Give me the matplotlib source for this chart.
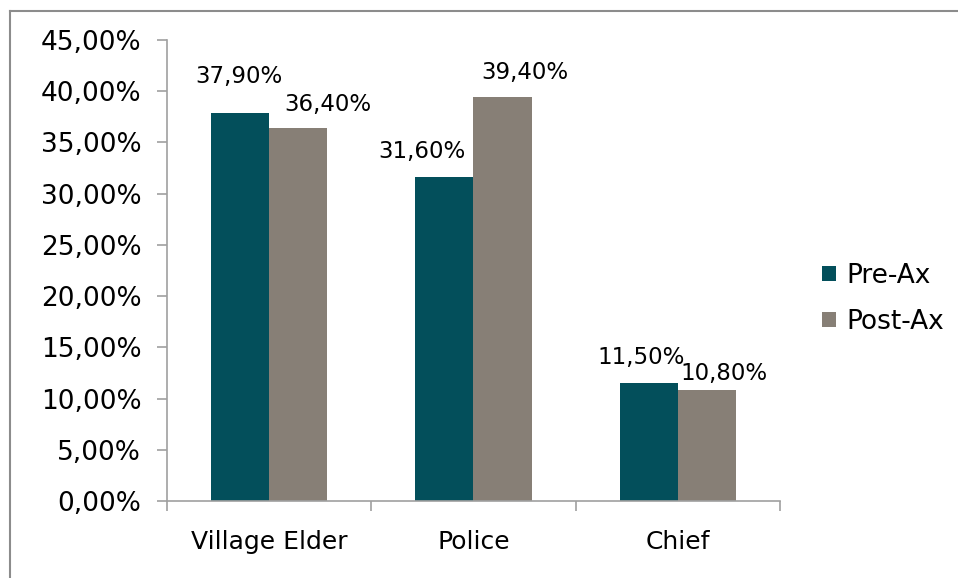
import matplotlib
matplotlib.use("Agg")
import matplotlib.pyplot as plt
import numpy as np
from matplotlib.lines import Line2D

categories = ["Village Elder", "Police", "Chief"]
pre_ax = [37.9, 31.6, 11.5]
post_ax = [36.4, 39.4, 10.8]
series_names = ["Pre-Ax", "Post-Ax"]
yticks = [0, 5, 10, 15, 20, 25, 30, 35, 40, 45]

colors = ["#034F5B", "#877F76"]
plt.rcParams['font.family'] = ['DejaVu Sans']

fig = plt.figure(figsize=(9.58, 5.78), dpi=100)
ax = fig.add_axes([167/958, 1-501/578, (780-167)/958, (501-40)/578])

x = np.arange(len(categories))
w = 0.285
b1 = ax.bar(x - w/2, pre_ax, w, color=colors[0], label=series_names[0])
b2 = ax.bar(x + w/2, post_ax, w, color=colors[1], label=series_names[1])

ax.set_xlim(-0.5, len(categories) - 0.5)
ax.set_ylim(0, 45)
ax.set_yticks(yticks)
ax.set_yticklabels([f"{v:.2f}".replace('.', ',') + '%' for v in yticks], fontsize=19)
ax.set_xticks(x)
ax.set_xticklabels(categories, fontsize=18)
ax.tick_params(axis='x', length=0, pad=21)
ax.set_xticks(np.arange(len(categories) + 1) - 0.5, minor=True)
ax.tick_params(axis='x', which='minor', length=7, color='#A0A0A0', width=1.2)
ax.tick_params(axis='y', length=7, color='#A0A0A0', width=1.2, pad=11.5)
for s in ['top', 'right']:
    ax.spines[s].set_visible(False)
for s in ['left', 'bottom']:
    ax.spines[s].set_color('#A0A0A0')
    ax.spines[s].set_linewidth(1.2)

def fmt(v):
    return f"{v:.2f}".replace('.', ',') + '%'

pre_off = [(-1, 36), (-22, 26), (-8, 26)]
post_off = [(30, 24), (22, 25), (17, 17)]
for i, v in enumerate(pre_ax):
    ax.annotate(fmt(v), (x[i] - w/2, v), xytext=pre_off[i], textcoords='offset pixels',
                ha='center', va='center', fontsize=16.5)
for i, v in enumerate(post_ax):
    ax.annotate(fmt(v), (x[i] + w/2, v), xytext=post_off[i], textcoords='offset pixels',
                ha='center', va='center', fontsize=16.5)

ax.legend(loc='center left', bbox_to_anchor=(1.052, (501 - 299) / 461), frameon=False, fontsize=19,
          handlelength=0.5, handleheight=0.5, handletextpad=0.4, labelspacing=0.78,
          borderaxespad=0)

# outer frame (left and top visible)
fig.add_artist(Line2D([10/958, 10/958], [0, 1-11/578], transform=fig.transFigure, color='#8C8C8C', lw=1.5))
fig.add_artist(Line2D([10/958, 1], [1-11/578, 1-11/578], transform=fig.transFigure, color='#8C8C8C', lw=1.5))

fig.savefig("out.png", dpi=100)
